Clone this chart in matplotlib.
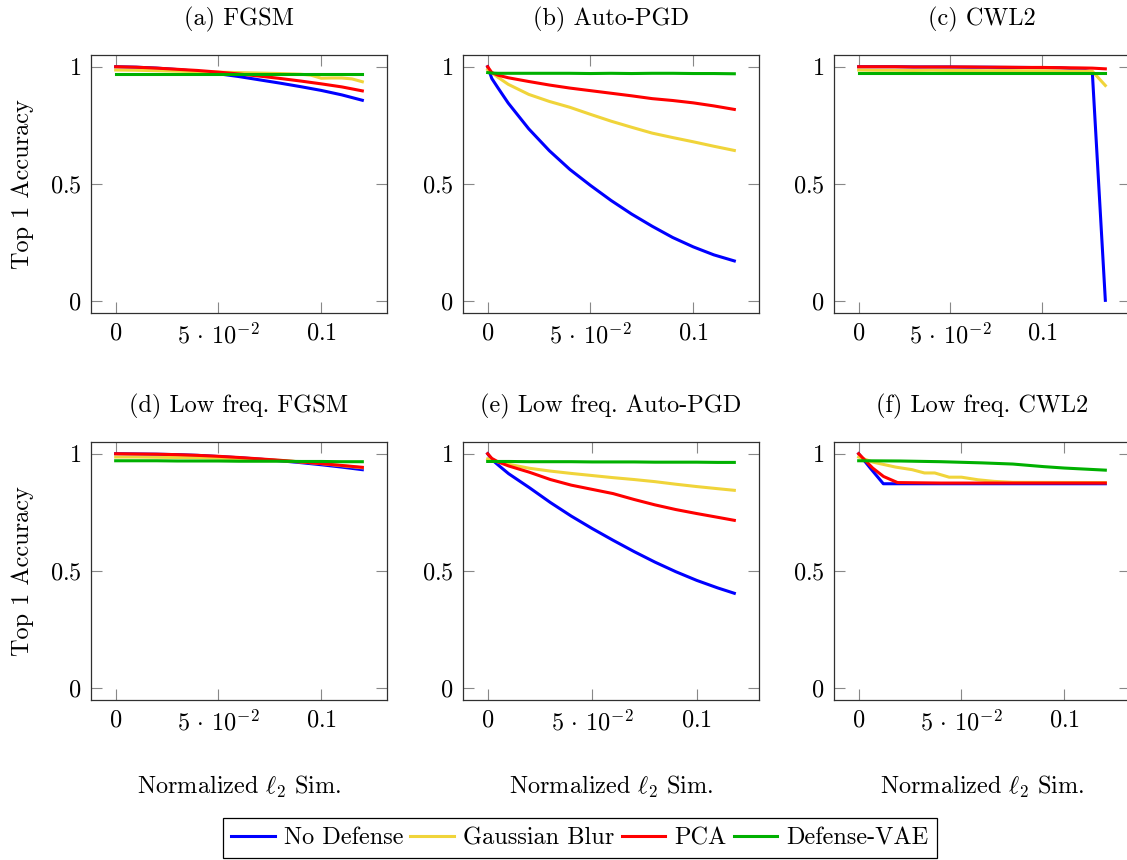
import matplotlib
matplotlib.use('Agg')
import matplotlib.pyplot as plt
from matplotlib.lines import Line2D

plt.rcParams['font.family'] = 'cmr10'
plt.rcParams['mathtext.fontset'] = 'cm'
plt.rcParams['axes.unicode_minus'] = False

# ---- data ----
names = ['No Defense', 'Gaussian Blur', 'PCA', 'Defense-VAE']
colors = ['#0000ff', '#f0d43a', '#ff0000', '#00b000']
titles = ['(a) FGSM', '(b) Auto-PGD', '(c) CWL2',
          '(d) Low freq. FGSM', '(e) Low freq. Auto-PGD', '(f) Low freq. CWL2']

# (a) FGSM
a_x = [0, 0.01, 0.02, 0.03, 0.04, 0.05, 0.06, 0.07, 0.08, 0.09, 0.1, 0.11, 0.12]
a_blue = [1.0, 0.998, 0.994, 0.988, 0.980, 0.970, 0.958, 0.944, 0.930, 0.915, 0.899, 0.880, 0.857]
a_red = [1.0, 0.998, 0.994, 0.989, 0.984, 0.977, 0.969, 0.960, 0.950, 0.939, 0.927, 0.914, 0.897]
a_green = [0.971, 0.971, 0.971, 0.971, 0.971, 0.971, 0.971, 0.971, 0.971, 0.971, 0.971, 0.971, 0.971]
a_yx = [0, 0.01, 0.02, 0.03, 0.04, 0.05, 0.06, 0.07, 0.08, 0.09, 0.095, 0.1, 0.105, 0.11, 0.115, 0.12]
a_yellow = [0.986, 0.985, 0.983, 0.981, 0.979, 0.977, 0.975, 0.973, 0.971, 0.968, 0.964, 0.951,
            0.952, 0.952, 0.948, 0.936]

# (b) Auto-PGD
b_x = [0, 0.002, 0.005, 0.01, 0.02, 0.03, 0.04, 0.05, 0.06, 0.07, 0.08, 0.09, 0.1, 0.11, 0.12]
b_blue = [1.0, 0.95, 0.91, 0.845, 0.735, 0.642, 0.562, 0.494, 0.43, 0.372, 0.32, 0.272, 0.232, 0.198, 0.172]
b_yellow = [0.988, 0.975, 0.955, 0.925, 0.882, 0.852, 0.827, 0.797, 0.768, 0.742, 0.717, 0.698, 0.68, 0.661, 0.643]
b_red = [1.0, 0.975, 0.964, 0.953, 0.937, 0.922, 0.909, 0.898, 0.887, 0.876, 0.864, 0.856, 0.846, 0.833, 0.818]
b_green = [0.975, 0.973, 0.972, 0.972, 0.972, 0.972, 0.972, 0.971, 0.972, 0.971, 0.972, 0.972, 0.971, 0.971, 0.970]

# (c) CWL2
c_x = [0, 0.01, 0.02, 0.03, 0.04, 0.05, 0.06, 0.07, 0.08, 0.09, 0.1, 0.11, 0.12, 0.1273, 0.1344]
c_blue = [1.0, 1.0, 1.0, 0.999, 0.999, 0.999, 0.998, 0.998, 0.997, 0.997, 0.996, 0.995, 0.990, 0.977, 0.004]
c_yellow = [0.986, 0.985, 0.985, 0.984, 0.985, 0.984, 0.984, 0.983, 0.984, 0.983, 0.983, 0.982, 0.982, 0.981, 0.920]
c_red = [1.0, 1.0, 1.0, 0.999, 0.999, 0.999, 0.999, 0.998, 0.998, 0.997, 0.997, 0.996, 0.995, 0.994, 0.991]
c_green = [0.972, 0.972, 0.972, 0.972, 0.972, 0.972, 0.972, 0.972, 0.972, 0.972, 0.972, 0.972, 0.972, 0.972, 0.972]

# (d) Low freq. FGSM
d_x = [0, 0.01, 0.02, 0.03, 0.04, 0.05, 0.06, 0.07, 0.08, 0.09, 0.1, 0.11, 0.12]
d_blue = [1.0, 0.999, 0.998, 0.996, 0.993, 0.988, 0.983, 0.977, 0.970, 0.962, 0.953, 0.943, 0.932]
d_yellow = [0.986, 0.986, 0.985, 0.984, 0.983, 0.981, 0.979, 0.976, 0.971, 0.965, 0.958, 0.949, 0.940]
d_red = [1.0, 0.999, 0.998, 0.996, 0.993, 0.989, 0.984, 0.978, 0.972, 0.965, 0.958, 0.950, 0.942]
d_green = [0.970, 0.970, 0.970, 0.969, 0.969, 0.969, 0.968, 0.968, 0.968, 0.967, 0.967, 0.966, 0.966]

# (e) Low freq. Auto-PGD
e_x = [0, 0.002, 0.005, 0.01, 0.02, 0.03, 0.04, 0.05, 0.06, 0.07, 0.08, 0.09, 0.1, 0.11, 0.118]
e_blue = [1.0, 0.975, 0.952, 0.915, 0.855, 0.792, 0.734, 0.681, 0.631, 0.583, 0.538, 0.497, 0.46, 0.428, 0.405]
e_yellow = [0.978, 0.972, 0.965, 0.955, 0.938, 0.926, 0.916, 0.907, 0.898, 0.89, 0.881, 0.87, 0.86, 0.851, 0.844]
e_red = [1.0, 0.98, 0.965, 0.948, 0.921, 0.89, 0.866, 0.848, 0.83, 0.805, 0.782, 0.762, 0.745, 0.729, 0.716]
e_green = [0.967, 0.967, 0.967, 0.967, 0.966, 0.966, 0.966, 0.965, 0.965, 0.965, 0.964, 0.964, 0.964, 0.963, 0.963]

# (f) Low freq. CWL2
f_bx = [0, 0.006, 0.012, 0.02, 0.04, 0.06, 0.08, 0.1, 0.12]
f_blue = [1.0, 0.935, 0.872, 0.872, 0.872, 0.872, 0.872, 0.872, 0.872]
f_rx = [0, 0.0068, 0.0121, 0.0189, 0.04, 0.06, 0.08, 0.1, 0.12]
f_red = [1.0, 0.939, 0.903, 0.877, 0.875, 0.875, 0.875, 0.875, 0.875]
f_yx = [0, 0.007, 0.018, 0.026, 0.032, 0.037, 0.044, 0.05, 0.058, 0.066, 0.075, 0.12]
f_yellow = [0.986, 0.964, 0.943, 0.932, 0.918, 0.918, 0.90, 0.90, 0.889, 0.882, 0.878, 0.877]
f_gx = [0, 0.02, 0.04, 0.06, 0.075, 0.09, 0.1, 0.12]
f_green = [0.970, 0.969, 0.966, 0.961, 0.956, 0.945, 0.939, 0.930]

panels = [
    [(a_x, a_blue), (a_yx, a_yellow), (a_x, a_red), (a_x, a_green)],
    [(b_x, b_blue), (b_x, b_yellow), (b_x, b_red), (b_x, b_green)],
    [(c_x, c_blue), (c_x, c_yellow), (c_x, c_red), (c_x, c_green)],
    [(d_x, d_blue), (d_x, d_yellow), (d_x, d_red), (d_x, d_green)],
    [(e_x, e_blue), (e_x, e_yellow), (e_x, e_red), (e_x, e_green)],
    [(f_bx, f_blue), (f_yx, f_yellow), (f_rx, f_red), (f_gx, f_green)],
]

W, H = 1127, 860
lefts = [91, 463, 834]
tops = [55, 442]
aw, ah = 296, 258
fs = 17.5

fig = plt.figure(figsize=(W / 100, H / 100), dpi=100)

for i, series in enumerate(panels):
    r, c = divmod(i, 3)
    ax = fig.add_axes([lefts[c] / W, 1 - (tops[r] + ah) / H, aw / W, ah / H])
    for (x, y), col in zip(series, colors):
        ax.plot(x, y, color=col, lw=2.2, solid_joinstyle='round')
    xmax = max(max(x) for x, _ in series)
    ax.set_xlim(-0.1 * xmax, 1.1 * xmax)
    ax.set_ylim(-0.05, 1.05)
    ax.set_xticks([0, 0.05, 0.1])
    ax.set_xticklabels(['$0$', r'$5\,\cdot\,10^{-2}$', '$0.1$'])
    ax.set_yticks([0, 0.5, 1])
    ax.set_yticklabels(['$0$', '$0.5$', '$1$'])
    ax.tick_params(direction='in', length=8, width=0.8, color='#888888',
                   top=True, right=True, labelsize=fs, pad=7)
    for sp in ax.spines.values():
        sp.set_linewidth(0.9)
        sp.set_color('#303030')
    ax.set_title(titles[i], fontsize=fs, pad=21)
    if c == 0:
        fig.text(23 / W, 1 - (tops[r] + ah / 2) / H, 'Top 1 Accuracy', rotation=90,
                 ha='center', va='center', fontsize=fs)
    if r == 1:
        ax.text(0.5, -(787 - 700) / ah, r'Normalized $\ell_2$ Sim.', transform=ax.transAxes,
                ha='center', va='center', fontsize=fs)

handles = [Line2D([], [], color=col, lw=2.2) for col in colors]
leg = fig.legend(handles, names, loc='center', bbox_to_anchor=(580 / W, 1 - 838 / H), ncol=4,
                 fancybox=False, edgecolor='black', framealpha=1, fontsize=fs,
                 handlelength=1.8, handletextpad=0.38, columnspacing=0.28, borderpad=0.35)
leg.get_frame().set_linewidth(0.9)

fig.savefig('out.png', dpi=100)
